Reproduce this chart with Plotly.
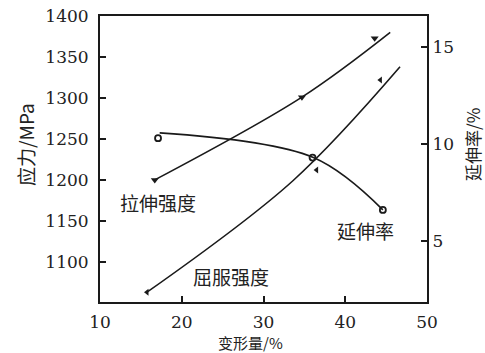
import plotly.graph_objects as go

# ---- data ----
# tensile strength (left axis, MPa)
tensile_x = [16.7, 34.7, 43.6]
tensile_y = [1200, 1301, 1373]
tensile_curve_x = [16.7, 34.7, 45.5]
tensile_curve_y = [1200, 1301, 1380]

# yield strength (left axis, MPa)
yield_x = [15.75, 36.5, 44.3]
yield_y = [1063, 1212, 1322]
yield_curve_x = [15.75, 33.6, 46.7]
yield_curve_y = [1063, 1199, 1338]

# elongation (right axis, %)
elong_x = [17.1, 36.0, 44.6]
elong_y = [10.3, 9.3, 6.6]
elong_curve_x = [17.3, 36.1, 44.6]
elong_curve_y = [10.57, 9.3, 6.6]

x_ticks = [10, 20, 30, 40, 50]
left_ticks = [1100, 1150, 1200, 1250, 1300, 1350, 1400]
right_ticks = [5, 10, 15]

LINE = "#1a1a1a"
SERIF = "DejaVu Serif"
CJK = "Noto Sans CJK SC"

fig = go.Figure()

fig.add_trace(go.Scatter(x=tensile_curve_x, y=tensile_curve_y, mode="lines",
                         line=dict(color=LINE, width=1.6, shape="spline"), showlegend=False))
fig.add_trace(go.Scatter(x=tensile_x, y=tensile_y, mode="markers",
                         marker=dict(symbol="triangle-down", size=7, color=LINE), showlegend=False))

fig.add_trace(go.Scatter(x=yield_curve_x, y=yield_curve_y, mode="lines",
                         line=dict(color=LINE, width=1.6, shape="spline"), showlegend=False))
fig.add_trace(go.Scatter(x=yield_x, y=yield_y, mode="markers",
                         marker=dict(symbol="triangle-left", size=6, color=LINE), showlegend=False))

fig.add_trace(go.Scatter(x=elong_curve_x, y=elong_curve_y, mode="lines", yaxis="y2",
                         line=dict(color=LINE, width=1.6, shape="spline"), showlegend=False))
fig.add_trace(go.Scatter(x=elong_x, y=elong_y, mode="markers", yaxis="y2",
                         marker=dict(symbol="circle-open", size=6, color=LINE,
                                     line=dict(width=1.8, color=LINE)), showlegend=False))

axis_common = dict(showgrid=False, zeroline=False, showline=True, linecolor=LINE,
                   linewidth=2, ticks="inside", ticklen=6, tickwidth=1.5, tickcolor=LINE,
                   automargin=False,
                   tickfont=dict(family=SERIF, size=17, color="#222"))

fig.update_layout(
    width=485, height=353,
    margin=dict(l=100, r=58, t=16, b=51),
    paper_bgcolor="white", plot_bgcolor="white",
    xaxis=dict(range=[10, 50], tickvals=x_ticks, mirror=True, ticklabelstandoff=4,
               **axis_common),
    yaxis=dict(range=[1051, 1400], tickvals=left_ticks, ticklabelstandoff=6, **axis_common),
    yaxis2=dict(range=[1.85, 16.6], tickvals=right_ticks, overlaying="y", side="right",
                **axis_common),
    annotations=[
        dict(x=17.1, y=1173, xref="x", yref="y", text="拉伸强度", showarrow=False,
             font=dict(family=CJK, size=19, color="#222")),
        dict(x=26.0, y=1082, xref="x", yref="y", text="屈服强度", showarrow=False,
             font=dict(family=CJK, size=19, color="#222")),
        dict(x=42.5, y=1138, xref="x", yref="y", text="延伸率", showarrow=False,
             font=dict(family=CJK, size=19, color="#222")),
        dict(x=(25 - 100) / 327, y=(302 - 145) / 286, xref="paper", yref="paper",
             xanchor="center", yanchor="middle",
             text="应力/MPa", textangle=-90, showarrow=False,
             font=dict(family=CJK, size=19, color="#222")),
        dict(x=(472 - 100) / 327, y=(302 - 145) / 286, xref="paper", yref="paper",
             xanchor="center", yanchor="middle",
             text="延伸率/%", textangle=-90, showarrow=False,
             font=dict(family=CJK, size=17, color="#222")),
        dict(x=(250 - 100) / 327, y=(302 - 342) / 286, xref="paper", yref="paper",
             xanchor="center", yanchor="middle",
             text="变形量/%", showarrow=False,
             font=dict(family=CJK, size=15, color="#222")),
    ],
)

fig.write_html("out.html", config={"displayModeBar": False},
               post_script="document.body.style.margin='0';document.body.style.overflow='hidden';")
